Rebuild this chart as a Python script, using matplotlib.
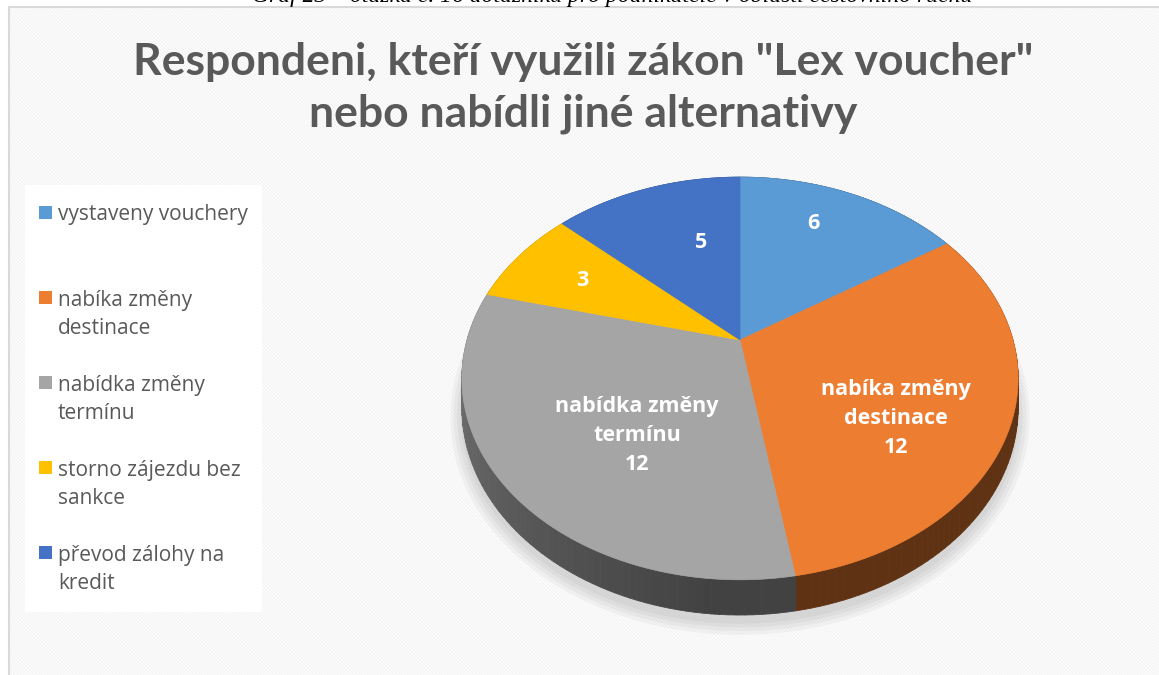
import numpy as np
import matplotlib
matplotlib.use("Agg")
import matplotlib.pyplot as plt
from matplotlib.patches import Polygon, Rectangle

# data
categories = ["vystaveny vouchery", "nabíka změny\ndestinace", "nabídka změny\ntermínu",
              "storno zájezdu bez\nsankce", "převod zálohy na\nkredit"]
values = [6, 12, 12, 3, 5]
colors = ["#5B9BD5", "#ED7D31", "#A5A5A5", "#FFC000", "#4472C4"]
show_name = [False, True, True, False, False]

title = 'Respondeni, kteří využili zákon "Lex voucher"\nnebo nabídli jiné alternativy'
caption = "Graf 23 – otázka č. 16 dotazníku pro podnikatele v oblasti cestovního ruchu"

W, H = 1159, 675
fig = plt.figure(figsize=(W / 100, H / 100), dpi=100)
fig.patch.set_facecolor("white")
ax = fig.add_axes([0, 0, 1, 1])
ax.set_xlim(0, W)
ax.set_ylim(H, 0)
ax.axis("off")

# hatched chart background + frame
plt.rcParams["hatch.linewidth"] = 1.0
ax.add_patch(Rectangle((8, 6), W, H, facecolor="white", edgecolor="#f4f4f4", lw=0,
                       hatch="\\" * 10, zorder=0))
ax.plot([8.5, 8.5, W], [H, 6.5, 6.5], color="#d9d9d9", lw=1.5, zorder=1)

# caption from the page (cut off at the top)
ax.text(612, 2, caption, family="Liberation Serif", style="italic", fontsize=17,
        ha="center", va="baseline", color="black")

ax.text(583, 42, title, ha="center", va="top", fontsize=32, fontweight="bold",
        family="Lato", color="#595959", linespacing=1.34)

# legend box
ax.add_patch(Rectangle((25, 185), 237, 427, facecolor="white", edgecolor="none", zorder=1))
for i, (lab, col) in enumerate(zip(categories, colors)):
    y0 = 213 + i * 85
    nl = lab.count("\n")
    ax.add_patch(Rectangle((39, y0 - 7), 13, 13, facecolor=col, edgecolor="none", zorder=2))
    ax.text(58, y0 + 7 + nl * 29, lab, ha="left", va="baseline",
            fontsize=15, family="Open Sans", color="#595959", linespacing=1.45, zorder=2)

# pseudo-3D pie in perspective
CX, CY, RX, RY, K, DEPTH = 740, 340, 273, 194, 0.191, 28.5


def proj(theta, r=1.0, drop=0.0):
    x = r * np.sin(theta)
    y = r * np.cos(theta)
    w = 1 + K * y
    return CX + RX * x / w, CY - RY * y / w + drop / w


total = sum(values)
bounds = np.concatenate([[0], np.cumsum(values)]) / total * 2 * np.pi

# soft shadow
t_all = np.linspace(0, 2 * np.pi, 400)
for k in range(4):
    s = 1.04 - k * 0.012
    xs, ys = proj(t_all, s, DEPTH + 6)
    ax.add_patch(Polygon(np.column_stack([xs, ys]), closed=True, facecolor="black",
                         edgecolor="none", alpha=0.035, zorder=2))

# sides
for a0, a1, col in zip(bounds[:-1], bounds[1:], colors):
    t = np.linspace(a0, a1, 80)
    base = np.array(matplotlib.colors.to_rgb(col))
    for ta, tb in zip(t[:-1], t[1:]):
        tm = np.degrees((ta + tb) / 2)
        f = 0.40 + 0.28 * np.clip((tm - 185) / 80, 0, 1)
        c = base * f
        xa, ya = proj(np.array([ta, tb]))
        xb, yb = proj(np.array([tb, ta]), drop=DEPTH)
        ax.add_patch(Polygon(np.column_stack([np.r_[xa, xb], np.r_[ya, yb]]), closed=True,
                             facecolor=c, edgecolor=c, lw=0.6, zorder=3))

# top faces
for a0, a1, col in zip(bounds[:-1], bounds[1:], colors):
    t = np.linspace(a0, a1, 120)
    xs, ys = proj(t)
    ax.add_patch(Polygon(np.column_stack([np.r_[CX, xs], np.r_[CY, ys]]), closed=True,
                         facecolor=col, edgecolor=col, lw=0.5, zorder=4))

# data labels
label_r = [0.62, 0.595, 0.48, 0.70, 0.38]
label_dy = [-21, 30, 28, 1, -34]
for i, v in enumerate(values):
    mid = (bounds[i] + bounds[i + 1]) / 2
    lx, ly = proj(mid, label_r[i])
    txt = (categories[i] + "\n" + str(v)) if show_name[i] else str(v)
    ax.text(lx, ly + label_dy[i], txt, ha="center", va="center", color="white",
            fontsize=15.5, fontweight="bold", family="Open Sans", linespacing=1.5, zorder=5)

fig.savefig("out.png", dpi=100, facecolor="white")
